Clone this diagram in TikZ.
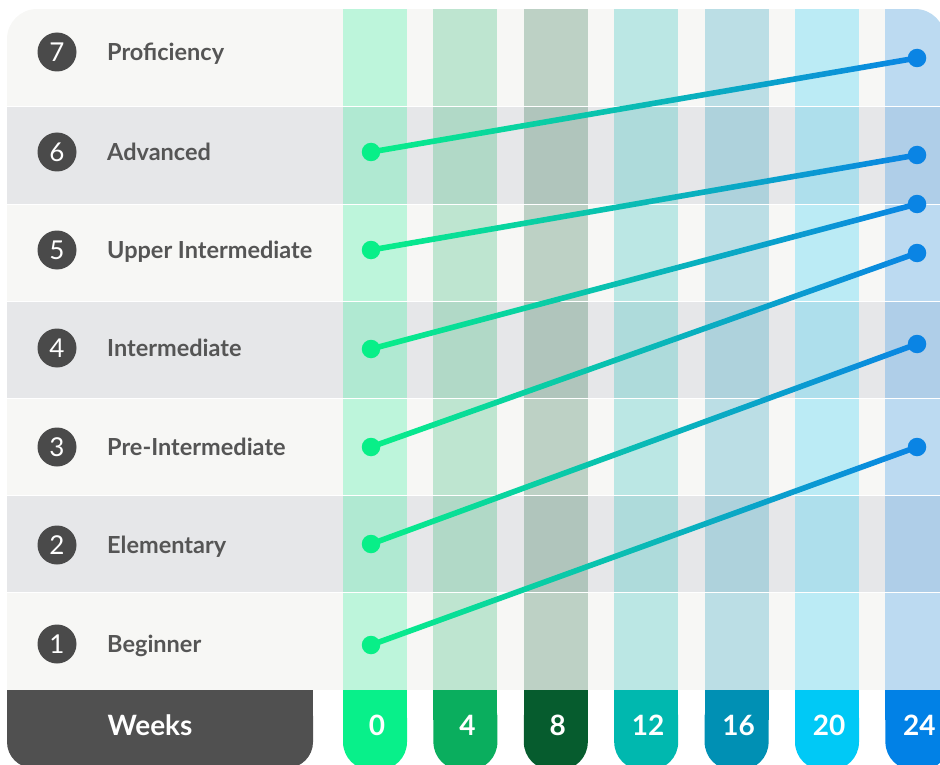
\documentclass[tikz,border=0pt]{standalone}
\usepackage{fontspec}
\setmainfont{Lato}
\usetikzlibrary{calc}

\definecolor{rowlight}{HTML}{F7F7F5}
\definecolor{rowgray}{HTML}{E6E7E9}
\definecolor{badgefill}{HTML}{4A4A4A}
\definecolor{labeltext}{HTML}{555555}
\definecolor{weekbox}{HTML}{505050}
\definecolor{wk0}{HTML}{08F08A}
\definecolor{wk4}{HTML}{0AAE5E}
\definecolor{wk8}{HTML}{065C2E}
\definecolor{wk12}{HTML}{00B8AF}
\definecolor{wk16}{HTML}{0090B4}
\definecolor{wk20}{HTML}{00C9F6}
\definecolor{wk24}{HTML}{0181E6}
\definecolor{lvstart}{HTML}{08EF88}
\definecolor{lvend}{HTML}{0A84E4}

\pgfdeclarelayer{background}
\pgfdeclarelayer{links}
\pgfsetlayers{background,links,main}

\tikzset{
  badge/.style={circle, fill=badgefill, text=white, minimum size=39pt, inner sep=0pt, font=\fontsize{26}{26}\selectfont},
  levelname/.style={anchor=base west, text=labeltext, inner sep=0pt, font=\fontsize{23.5}{23.5}\selectfont\bfseries},
  dot/.style={circle, inner sep=0pt, minimum size=18.5pt},
  tabtext/.style={anchor=base, text=white, inner sep=0pt, font=\fontsize{28}{28}\selectfont\bfseries}
}

\begin{document}
\begin{tikzpicture}[x=1pt, y=-1pt]
  \useasboundingbox (0,0) rectangle (940,765);

  \begin{pgfonlayer}{background}
  \begin{scope}
    \clip[rounded corners=30pt] (7,9) rectangle (945,740);
    \foreach \y/\c in {9/rowlight,107/rowgray,204/rowlight,301/rowgray,398/rowlight,495/rowgray,592/rowlight}
      \fill[\c] (7,\y) rectangle (945,\y+98);
    \foreach \w [count=\i from 0] in {0,4,8,12,16,20,24}
      \fill[wk\w, opacity=0.24] (343+90.4*\i,9) rectangle ++(64,681);
    \foreach \y in {107,204,301,398,495,592}
      \draw[white, line width=1pt] (7,\y) -- (945,\y);
  \end{scope}
  \end{pgfonlayer}

  % bottom bar
  \fill[weekbox, rounded corners=26pt] (7,690) rectangle (313,768);
  \fill[weekbox] (7,690) rectangle (313,720);
  \node[tabtext] (weeks) at (150,735) {Weeks};
  \foreach \w [count=\i from 0] in {0,4,8,12,16,20,24} {
    \fill[wk\w, rounded corners=28pt] (343+90.4*\i,690) rectangle ++(64,80);
    \fill[wk\w] (343+90.4*\i,690) rectangle ++(64,30);
    \node[tabtext] (week\w) at (377+90.4*\i,735) {\w};
  }

  \foreach \n/\name/\y in {7/Proficiency/52,6/Advanced/152,5/Upper Intermediate/250,4/Intermediate/348,3/Pre-Intermediate/447,2/Elementary/545,1/Beginner/644} {
    \node[badge] (b\n) at (57,\y) {\n};
    \node[levelname] (n\n) at (107,\y+8.5) {\name};
  }

  \foreach \n/\y in {6/152,5/250,4/349,3/447,2/544,1/645}
    \node[dot, fill=lvstart] (s\n) at (371,\y) {};
  \foreach \n/\y in {6/58,5/155,4/204,3/253,2/344,1/447}
    \node[dot, fill=lvend] (e\n) at (917,\y) {};

  \begin{pgfonlayer}{links}
    \foreach \n in {1,...,6}
      \shade[left color=lvstart, right color=lvend] ($(s\n)!2.8pt!90:(e\n)$) -- ($(e\n)!2.8pt!-90:(s\n)$) -- ($(e\n)!2.8pt!90:(s\n)$) -- ($(s\n)!2.8pt!-90:(e\n)$) -- cycle;
  \end{pgfonlayer}
\end{tikzpicture}
\end{document}
